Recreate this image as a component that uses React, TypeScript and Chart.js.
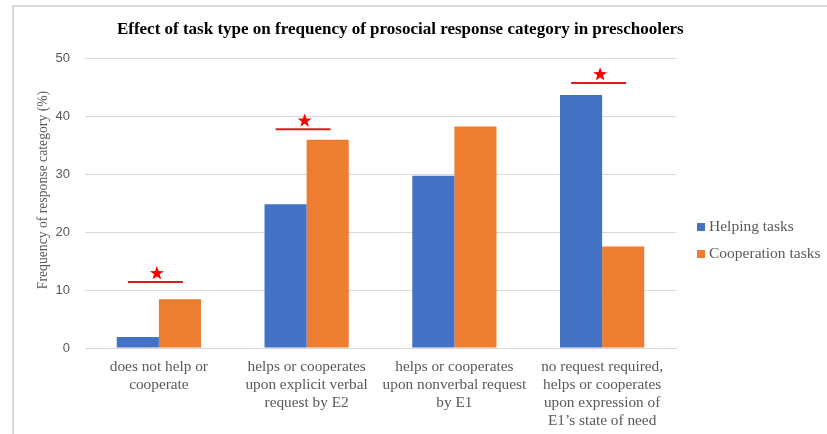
import React, { useEffect, useRef } from "react";
import { Chart, registerables } from "chart.js";

Chart.register(...registerables);

const titleText = "Effect of task type on frequency of prosocial response category in preschoolers";
const yAxisTitle = "Frequency of response category (%)";
const categories: string[][] = [
  ["does not help or", "cooperate"],
  ["helps or cooperates", "upon explicit verbal", "request by E2"],
  ["helps or cooperates", "upon nonverbal request", "by E1"],
  ["no request required,", "helps or cooperates", "upon expression of", "E1\u2019s state of need"],
];
const seriesNames = ["Helping tasks", "Cooperation tasks"];
const seriesColors = ["#4472C4", "#ED7D31"];
const helping = [1.9, 24.8, 29.7, 43.6];
const cooperation = [8.4, 35.9, 38.2, 17.5];
const yMin = 0;
const yMax = 50;
const yStep = 10;
// significance markers: y-value of the red bracket line per category (null = none)
const sigLine: (number | null)[] = [11.4, 37.7, null, 45.7];

const GRAY = "#595959";
const GRID = "#d9d9d9";
const SERIF = "'Liberation Serif', 'Times New Roman', serif";

const framePlugin = {
  id: "frame",
  beforeDraw(chart: any) {
    const { ctx, width, height } = chart;
    ctx.save();
    ctx.fillStyle = "#ffffff";
    ctx.fillRect(0, 0, width, height);
    ctx.strokeStyle = "#d9d9d9";
    ctx.lineWidth = 2;
    ctx.beginPath();
    ctx.moveTo(13, height);
    ctx.lineTo(13, 6);
    ctx.lineTo(width, 6);
    ctx.stroke();
    ctx.restore();
  },
};

const titlePlugin = {
  id: "customTitle",
  afterDraw(chart: any) {
    const { ctx, width } = chart;
    ctx.save();
    ctx.font = `bold 17px ${SERIF}`;
    ctx.fillStyle = "#000000";
    ctx.textAlign = "center";
    ctx.textBaseline = "middle";
    ctx.fillText(titleText, width * 0.484, 30);
    ctx.restore();
  },
};

const yTitlePlugin = {
  id: "yTitle",
  afterDraw(chart: any) {
    const { ctx, chartArea } = chart;
    ctx.save();
    ctx.translate(chartArea.left - 42, (chartArea.top + chartArea.bottom) / 2 - 13);
    ctx.rotate(-Math.PI / 2);
    ctx.font = `13.7px ${SERIF}`;
    ctx.fillStyle = GRAY;
    ctx.textAlign = "center";
    ctx.textBaseline = "middle";
    ctx.fillText(yAxisTitle, 0, 0);
    ctx.restore();
  },
};

const legendPlugin = {
  id: "customLegend",
  afterDraw(chart: any) {
    const { ctx, chartArea } = chart;
    ctx.save();
    ctx.font = `15.5px ${SERIF}`;
    ctx.textAlign = "left";
    ctx.textBaseline = "middle";
    const x = chartArea.right + 21;
    seriesNames.forEach((name, i) => {
      const y = chartArea.bottom - 121 + i * 27;
      ctx.fillStyle = seriesColors[i];
      ctx.fillRect(x, y - 4, 8, 8);
      ctx.fillStyle = GRAY;
      ctx.fillText(name, x + 12, y);
    });
    ctx.restore();
  },
};

function drawStar(ctx: CanvasRenderingContext2D, cx: number, cy: number, R: number, r: number) {
  ctx.beginPath();
  for (let i = 0; i < 10; i++) {
    const ang = -Math.PI / 2 + (i * Math.PI) / 5;
    const rad = i % 2 === 0 ? R : r;
    const px = cx + rad * Math.cos(ang);
    const py = cy + rad * Math.sin(ang);
    if (i === 0) ctx.moveTo(px, py);
    else ctx.lineTo(px, py);
  }
  ctx.closePath();
  ctx.fill();
}

const sigPlugin = {
  id: "sigMarkers",
  afterDatasetsDraw(chart: any) {
    const { ctx } = chart;
    const xs = chart.scales.x;
    const ys = chart.scales.y;
    ctx.save();
    sigLine.forEach((v, i) => {
      if (v === null) return;
      const x = xs.getPixelForValue(i);
      const y = ys.getPixelForValue(v);
      ctx.strokeStyle = "#d81e1e";
      ctx.lineWidth = 2;
      ctx.beginPath();
      ctx.moveTo(x - 31, y);
      ctx.lineTo(x + 24, y);
      ctx.stroke();
      ctx.fillStyle = "#ff0000";
      drawStar(ctx, x - 2, y - 8.5, 7.3, 3);
    });
    ctx.restore();
  },
};

export default function App() {
  const ref = useRef<HTMLCanvasElement>(null);
  useEffect(() => {
    if (!ref.current) return;
    const chart = new Chart(ref.current, {
      type: "bar",
      data: {
        labels: categories,
        datasets: [
          { label: seriesNames[0], data: helping, backgroundColor: seriesColors[0], borderWidth: 0 },
          { label: seriesNames[1], data: cooperation, backgroundColor: seriesColors[1], borderWidth: 0 },
        ],
      },
      options: {
        responsive: false,
        animation: false,
        maintainAspectRatio: false,
        layout: { padding: { left: 25, top: 58, bottom: -6, right: 151 } },
        datasets: { bar: { barPercentage: 1, categoryPercentage: 0.57 } },
        plugins: {
          title: { display: false },
          tooltip: { enabled: false },
          legend: { display: false },
        },
        scales: {
          x: {
            grid: { display: false, drawTicks: false },
            border: { display: true, color: GRID, width: 1 },
            ticks: {
              color: GRAY,
              padding: 10,
              maxRotation: 0,
              autoSkip: false,
              font: { family: SERIF, size: 15.3, lineHeight: 1.176 },
            },
          },
          y: {
            min: yMin,
            max: yMax,
            grid: { color: GRID, drawTicks: false },
            border: { display: false },
            afterFit: (scale: any) => {
              scale.width = 60;
            },
            ticks: {
              stepSize: yStep,
              color: GRAY,
              padding: 15,
              font: { family: "'Liberation Sans', Arial, sans-serif", size: 13 },
            },
            title: { display: false },
          },
        },
      },
      plugins: [framePlugin, titlePlugin, sigPlugin, legendPlugin, yTitlePlugin],
    });
    return () => chart.destroy();
  }, []);
  return (
    <div style={{ position: "fixed", left: 0, top: 0, width: 827, height: 434 }}>
      <canvas ref={ref} width={827} height={434} style={{ display: "block" }} />
    </div>
  );
}
